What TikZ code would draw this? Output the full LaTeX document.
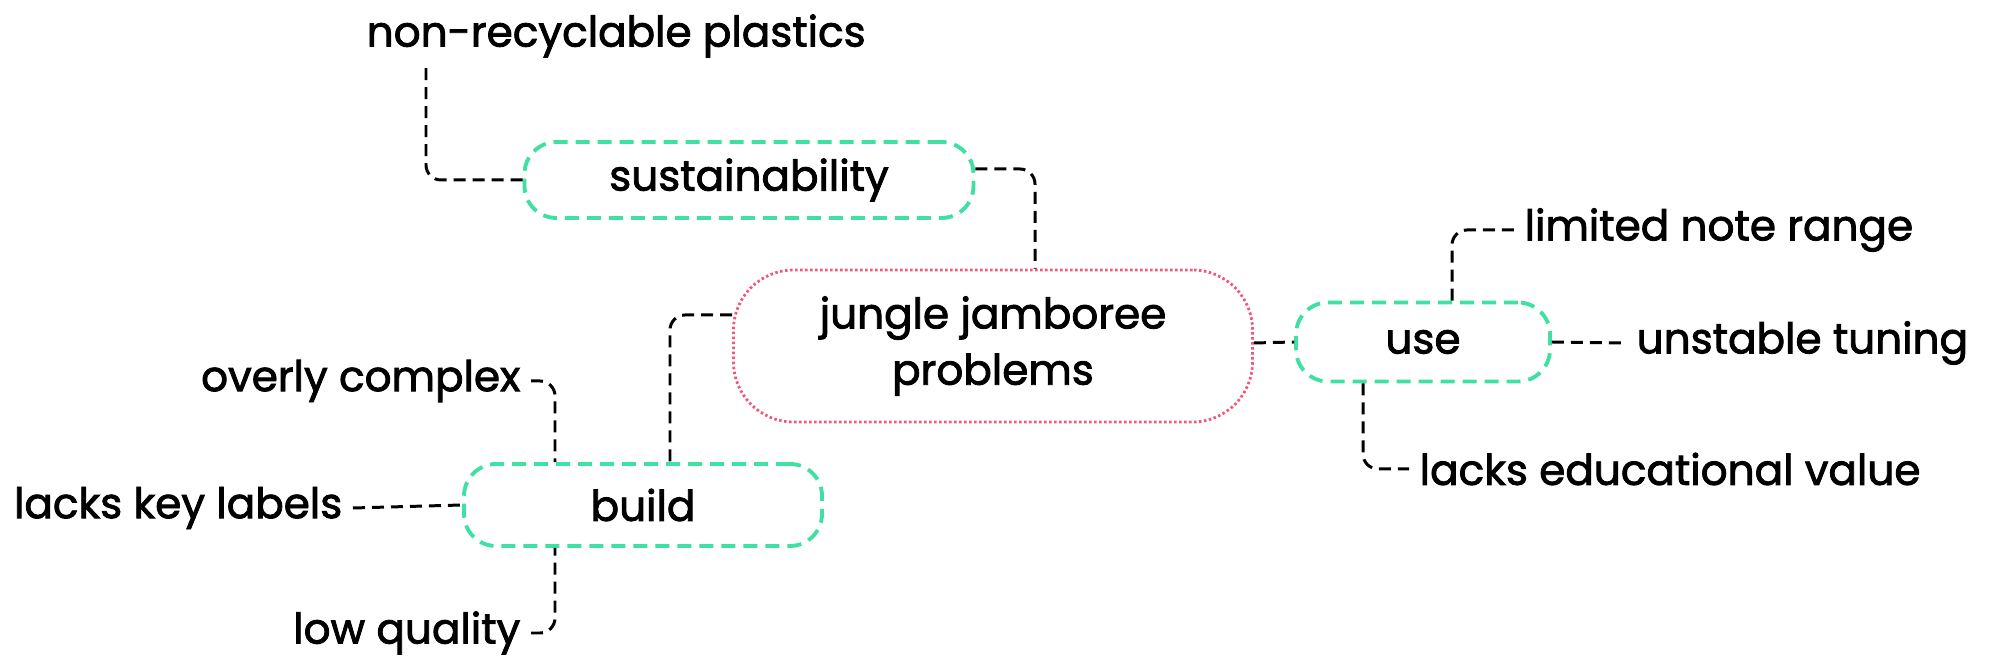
\documentclass[tikz,border=0pt]{standalone}
\usepackage{fontspec}
\setmainfont{Poppins}[UprightFeatures={FakeBold=2}]
\usetikzlibrary{positioning}
\definecolor{mintline}{HTML}{3FE0A2}
\definecolor{rosedot}{HTML}{F2577A}

\begin{document}
\begin{tikzpicture}[x=0.1mm,y=-0.1mm,
	topic/.style={draw=mintline,line width=1.1pt,dash pattern=on 1.4mm off 0.8mm,rounded corners=3.2mm,align=center,font=\fontsize{12}{15}\selectfont},
	core/.style={draw=rosedot,line width=0.8pt,dash pattern=on 0.25mm off 0.25mm,rounded corners=6mm,align=center,font=\fontsize{12}{16}\selectfont},
	leaf/.style={inner xsep=1mm,inner ysep=0.5mm,font=\fontsize{12}{15}\selectfont},
	link/.style={draw,line width=0.85pt,dash pattern=on 1.2mm off 0.7mm,rounded corners=1.5mm}]
\useasboundingbox (0,0) rectangle (1992,667);
\node[core,minimum width=51.9mm,minimum height=15.2mm] (jungle) at (993,346) {jungle jamboree\\problems};
\node[topic,minimum width=44.9mm,minimum height=7.6mm] (sustain) at (749,180) {sustainability};
\node[topic,minimum width=35.8mm,minimum height=8.2mm] (build) at (643,505) {build};
\node[topic,minimum width=25.4mm,minimum height=7.9mm] (use) at (1423,342) {use};
\node[leaf,anchor=west] (plastics) at (356,36) {non-recyclable plastics};
\node[leaf,anchor=east] (complex) at (531,381) {overly complex};
\node[leaf,anchor=east] (keylabels) at (353,508) {lacks key labels};
\node[leaf,anchor=east] (quality) at (531,633) {low quality};
\node[leaf,anchor=west] (noterange) at (1514,230) {limited note range};
\node[leaf,anchor=west] (tuning) at (1626,343) {unstable tuning};
\node[leaf,anchor=west] (eduvalue) at (1409,469) {lacks educational value};
	\draw[link] (sustain.west) -| ([xshift=7mm]plastics.south west);
	\draw[link] ([yshift=1.1mm]sustain.east) -| ([xshift=4.2mm]jungle.north);
	\draw[link] ([yshift=3.1mm]jungle.west) -| ([xshift=2.7mm]build.north);
	\draw[link] ([yshift=0.3mm]jungle.east) -- (use.west);
	\draw[link] ([xshift=2.9mm]use.north) |- (noterange.west);
	\draw[link] (use.east) -- (tuning.west);
	\draw[link] ([xshift=-6mm]use.south) |- (eduvalue.west);
	\draw[link] (complex.east) -| ([xshift=-8.8mm]build.north);
	\draw[link] (keylabels.east) -- (build.west);
	\draw[link] (quality.east) -| ([xshift=-8.8mm]build.south);
\end{tikzpicture}
\end{document}
